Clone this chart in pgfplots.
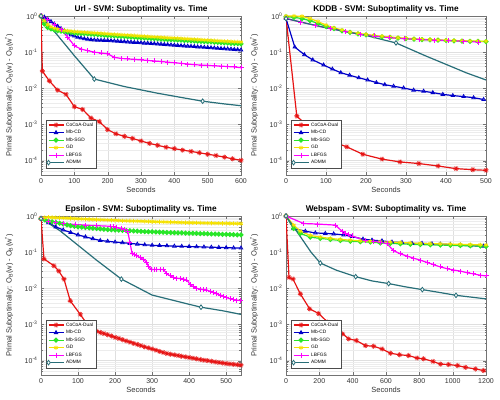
\documentclass[border=0pt]{standalone}
\usepackage{pgfplots}
\pgfplotsset{compat=1.18}
\usetikzlibrary{plotmarks}
\usepackage{fontspec}
\setmainfont{Liberation Sans}
\definecolor{cred}{RGB}{230,20,20}
\definecolor{cblue}{RGB}{0,0,200}
\definecolor{cgreen}{RGB}{40,230,40}
\definecolor{cyellow}{RGB}{245,225,0}
\definecolor{cmag}{RGB}{255,0,255}
\definecolor{cteal}{RGB}{40,110,120}
\pgfplotsset{
  width=200pt, height=159pt, scale only axis,
  ytick={1e-4,1e-3,1e-2,1e-1,1},
  yticklabels={10\textsuperscript{-4},10\textsuperscript{-3},10\textsuperscript{-2},10\textsuperscript{-1},10\textsuperscript{0}},
  minor ytick={5e-5,6e-5,7e-5,8e-5,9e-5,2e-4,3e-4,4e-4,5e-4,6e-4,7e-4,8e-4,9e-4,2e-3,3e-3,4e-3,5e-3,6e-3,7e-3,8e-3,9e-3,2e-2,3e-2,4e-2,5e-2,6e-2,7e-2,8e-2,9e-2,0.2,0.3,0.4,0.5,0.6,0.7,0.8,0.9},
  ymajorgrids, yminorgrids, xmajorgrids,
  major grid style={gray!25, line width=0.3pt},
  minor grid style={gray!15, line width=0.3pt},
  axis line style={black!55},
  tick style={black!55},
  major tick length=3pt, minor tick length=1.5pt,
  tick label style={font=\fontsize{7}{8}\selectfont, text=black!80},
  title style={font=\bfseries\fontsize{8.3}{9}\selectfont, yshift=-7pt},
  xlabel={Seconds},
  ylabel={Primal Suboptimality: O\textsubscript{B}(w) - O\textsubscript{B}(w\textsuperscript{*})},
  label style={font=\fontsize{7.5}{9}\selectfont, text=black!80},
  xlabel style={at={(axis description cs:0.5,-0.094)}, anchor=center},
  ylabel style={at={(axis description cs:-0.16,0.5)}, anchor=center},
  /pgf/number format/assume math mode=true,
  /pgf/number format/1000 sep={},
  legend style={at={(axis description cs:0.024,0.044)}, anchor=south west,
    font=\fontsize{4.8}{5}\selectfont, inner sep=0.8pt, row sep=-1.4pt, draw=black!70},
  legend cell align=left,
  legend image code/.code={\draw[mark repeat=2,mark phase=2,#1] plot coordinates {(0pt,0pt)(7.5pt,0pt)(15pt,0pt)};},
  cocoa/.style={color=cred, line width=1.2pt, mark=10-pointed star, mark size=2.6pt, mark options={solid, fill=cred, line width=0.5pt}},
  mbcd/.style={color=cblue, line width=1.2pt, mark=triangle, mark size=2pt, mark options={solid, line width=0.8pt}},
  mbsgd/.style={color=cgreen, line width=1.2pt, mark=*, mark size=1.9pt, mark options={solid, fill=cgreen}},
  gd/.style={color=cyellow, line width=1.2pt, mark=asterisk, mark size=2.2pt, mark options={solid, line width=0.8pt}},
  lbfgs/.style={color=cmag, line width=1.2pt, mark=+, mark size=2.5pt, mark options={solid, line width=0.9pt}},
  admm/.style={color=cteal, line width=1.2pt, mark=diamond*, mark size=2.3pt, mark options={solid, fill=white, line width=0.8pt}},
}
\begin{document}
\begin{tikzpicture}
\useasboundingbox (0,0) rectangle (500pt,399pt);
% ---------------- Url ----------------
\begin{axis}[ymode=log, ymin=4e-5, ymax=1, anchor=south west, at={(41pt,224pt)}, xmin=0, xmax=600, xtick={0,100,...,600},
  title={Url - SVM: Suboptimality vs. Time}]
\addplot[cocoa] coordinates {(0,1)(4,0.03)(25,0.016)(50,0.0089)(75,0.0068)(100,0.0031)(125,0.0026)(150,0.0015)(175,0.0012)(200,7.2e-4)(225,5.5e-4)(250,4.7e-4)(275,4.1e-4)(300,3.5e-4)(325,3e-4)(350,2.65e-4)(375,2.35e-4)(400,2.15e-4)(425,1.95e-4)(450,1.8e-4)(475,1.65e-4)(500,1.5e-4)(525,1.38e-4)(550,1.25e-4)(575,1.12e-4)(600,1.02e-4)};
\addplot[mbcd] coordinates {(0,1)(10,0.93)(20,0.82)(30,0.7)(40,0.6)(50,0.52)(60,0.45)(70,0.39)(80,0.34)(90,0.3)(100,0.28)(110,0.26)(120,0.245)(130,0.235)(140,0.228)(150,0.222)(160,0.218)(170,0.215)(180,0.213)(190,0.212)(200,0.21)(210,0.207)(220,0.204)(230,0.201)(240,0.198)(250,0.195)(260,0.192)(270,0.189)(280,0.186)(290,0.184)(300,0.181)(310,0.178)(320,0.176)(330,0.173)(340,0.171)(350,0.168)(360,0.166)(370,0.163)(380,0.161)(390,0.158)(400,0.156)(410,0.154)(420,0.151)(430,0.149)(440,0.147)(450,0.145)(460,0.143)(470,0.14)(480,0.138)(490,0.136)(500,0.134)(510,0.132)(520,0.13)(530,0.128)(540,0.126)(550,0.124)(560,0.123)(570,0.121)(580,0.119)(590,0.117)(600,0.115)};
\addplot[mbsgd] coordinates {(0,1)(10,0.6)(20,0.48)(30,0.44)(40,0.41)(50,0.39)(60,0.38)(70,0.37)(80,0.36)(90,0.35)(100,0.34)(110,0.335)(120,0.33)(130,0.325)(140,0.32)(150,0.315)(160,0.31)(170,0.305)(180,0.3)(190,0.295)(200,0.29)(210,0.286)(220,0.282)(230,0.278)(240,0.274)(250,0.27)(260,0.266)(270,0.262)(280,0.258)(290,0.254)(300,0.25)(310,0.247)(320,0.244)(330,0.24)(340,0.237)(350,0.234)(360,0.231)(370,0.228)(380,0.225)(390,0.222)(400,0.22)(410,0.217)(420,0.214)(430,0.211)(440,0.209)(450,0.206)(460,0.203)(470,0.201)(480,0.198)(490,0.196)(500,0.193)(510,0.191)(520,0.188)(530,0.186)(540,0.183)(550,0.181)(560,0.179)(570,0.176)(580,0.174)(590,0.172)(600,0.17)};
\addplot[gd] coordinates {(0,1)(10,0.75)(20,0.58)(30,0.5)(40,0.46)(50,0.43)(60,0.41)(70,0.4)(80,0.39)(90,0.38)(100,0.37)(110,0.365)(120,0.36)(130,0.355)(140,0.35)(150,0.345)(160,0.34)(170,0.335)(180,0.33)(190,0.325)(200,0.32)(210,0.315)(220,0.31)(230,0.306)(240,0.302)(250,0.298)(260,0.294)(270,0.29)(280,0.286)(290,0.282)(300,0.278)(310,0.274)(320,0.27)(330,0.266)(340,0.263)(350,0.26)(360,0.256)(370,0.253)(380,0.25)(390,0.247)(400,0.244)(410,0.241)(420,0.238)(430,0.235)(440,0.232)(450,0.229)(460,0.226)(470,0.223)(480,0.22)(490,0.217)(500,0.214)(510,0.211)(520,0.208)(530,0.205)(540,0.203)(550,0.2)(560,0.198)(570,0.196)(580,0.194)(590,0.192)(600,0.19)};
\addplot[lbfgs] coordinates {(0,1)(20,0.8)(40,0.58)(60,0.42)(80,0.26)(100,0.15)(120,0.122)(140,0.11)(160,0.1)(180,0.095)(200,0.09)(220,0.072)(240,0.067)(260,0.065)(280,0.063)(300,0.061)(320,0.059)(340,0.057)(360,0.055)(380,0.053)(400,0.051)(420,0.049)(440,0.047)(460,0.045)(480,0.044)(500,0.043)(520,0.042)(540,0.041)(560,0.04)(580,0.039)(600,0.037)};
\addplot[admm, mark indices={1,4,8}] coordinates {(0,1)(50,0.29)(100,0.08)(160,0.018)(250,0.0112)(350,0.0073)(420,0.0056)(485,0.0044)(550,0.0037)(600,0.0033)};
\legend{CoCoA-Dual,Mb-CD,Mb-SGD,GD,LBFGS,ADMM}
\end{axis}
% ---------------- KDDB ----------------
\begin{axis}[ymode=log, ymin=4e-5, ymax=1, anchor=south west, at={(286pt,224pt)}, xmin=0, xmax=500, xtick={0,100,...,500},
  title={KDDB - SVM: Suboptimality vs. Time}]
\addplot[cocoa] coordinates {(0,0.9)(27,1.7e-3)(69,6.3e-4)(110,3.6e-4)(152,2.4e-4)(192,1.5e-4)(240,1.1e-4)(285,9.2e-5)(332,8.3e-5)(380,7.1e-5)(425,6e-5)(467,5.6e-5)(500,5.4e-5)};
\addplot[mbcd] coordinates {(0,0.85)(22,0.138)(46,0.085)(67,0.061)(94,0.044)(116,0.034)(137,0.027)(159,0.023)(182,0.0195)(204,0.017)(226,0.0144)(247,0.0126)(269,0.0114)(294,0.0102)(319,0.0089)(344,0.0083)(367,0.0076)(392,0.0068)(417,0.0063)(444,0.0059)(469,0.0055)(494,0.0049)};
\addplot[mbsgd] coordinates {(0,0.95)(20,0.92)(40,0.85)(60,0.74)(80,0.62)(100,0.52)(120,0.45)(140,0.39)(160,0.35)(180,0.32)(200,0.3)(220,0.28)(240,0.265)(260,0.255)(280,0.245)(300,0.235)(320,0.228)(340,0.222)(360,0.218)(380,0.214)(400,0.21)(420,0.206)(440,0.203)(460,0.2)(480,0.198)(500,0.195)};
\addplot[gd] coordinates {(0,1)(20,1)(40,0.98)(60,0.85)(80,0.7)(100,0.56)(120,0.47)(140,0.41)(160,0.36)(180,0.33)(200,0.31)(220,0.29)(240,0.275)(260,0.262)(280,0.252)(300,0.243)(320,0.235)(340,0.228)(360,0.223)(380,0.218)(400,0.214)(420,0.21)(440,0.207)(460,0.204)(480,0.202)(500,0.2)};
\addplot[lbfgs] coordinates {(0,0.85)(37,0.68)(74,0.55)(111,0.45)(148,0.37)(185,0.31)(222,0.28)(259,0.25)(296,0.235)(333,0.225)(370,0.215)(407,0.21)(444,0.2)(481,0.19)};
\addplot[admm, mark indices={1,7}] coordinates {(0,0.85)(50,0.63)(100,0.47)(150,0.37)(200,0.29)(250,0.21)(275,0.18)(350,0.078)(400,0.046)(450,0.027)(500,0.017)};
\legend{CoCoA-Dual,Mb-CD,Mb-SGD,GD,LBFGS,ADMM}
\end{axis}
% ---------------- Epsilon ----------------
\begin{axis}[ymode=log, ymin=4e-5, ymax=1, anchor=south west, at={(41pt,24pt)}, xmin=0, xmax=540, xtick={0,100,...,500},
  title={Epsilon - SVM: Suboptimality vs. Time}]
\addplot[cocoa] coordinates {(0,0.85)(8,0.065)(35,0.042)(48,0.03)(62,0.018)(79,0.0045)(106,0.0019)(130,8.5e-4)(140,7.3e-4)(150,6.5e-4)(160,6e-4)(170,5.6e-4)(180,5.2e-4)(190,4.8e-4)(200,4.4e-4)(210,4.1e-4)(220,3.8e-4)(230,3.5e-4)(240,3.25e-4)(250,3e-4)(260,2.8e-4)(270,2.6e-4)(280,2.4e-4)(290,2.25e-4)(300,2.1e-4)(310,1.95e-4)(320,1.8e-4)(330,1.68e-4)(340,1.57e-4)(350,1.5e-4)(360,1.44e-4)(370,1.38e-4)(380,1.32e-4)(390,1.27e-4)(400,1.22e-4)(410,1.17e-4)(420,1.12e-4)(430,1.07e-4)(440,1.03e-4)(450,1e-4)(460,9.6e-5)(470,9.2e-5)(480,8.9e-5)(490,8.6e-5)(500,8.3e-5)(510,8.1e-5)(520,7.9e-5)(530,7.7e-5)(540,7.5e-5)};
\addplot[mbcd] coordinates {(0,0.85)(20,0.65)(40,0.5)(60,0.41)(80,0.35)(100,0.3)(120,0.265)(140,0.235)(160,0.21)(180,0.2)(200,0.19)(220,0.183)(240,0.175)(260,0.167)(280,0.16)(300,0.155)(320,0.152)(340,0.15)(360,0.147)(380,0.145)(400,0.143)(420,0.141)(440,0.139)(460,0.137)(480,0.135)(500,0.133)(520,0.131)(540,0.13)};
\addplot[mbsgd] coordinates {(0,0.85)(10,0.78)(20,0.72)(30,0.69)(40,0.66)(50,0.63)(60,0.6)(70,0.57)(80,0.54)(90,0.52)(100,0.5)(110,0.49)(120,0.48)(130,0.47)(140,0.46)(150,0.45)(160,0.44)(170,0.43)(180,0.42)(190,0.415)(200,0.41)(210,0.405)(220,0.4)(230,0.395)(240,0.39)(250,0.385)(260,0.38)(270,0.375)(280,0.37)(290,0.367)(300,0.365)(310,0.362)(320,0.36)(330,0.355)(340,0.35)(350,0.347)(360,0.345)(370,0.342)(380,0.34)(390,0.337)(400,0.335)(410,0.332)(420,0.33)(430,0.327)(440,0.325)(450,0.322)(460,0.32)(470,0.317)(480,0.315)(490,0.312)(500,0.31)(510,0.307)(520,0.305)(530,0.302)(540,0.3)};
\addplot[gd] coordinates {(0,0.85)(10,0.9)(20,0.92)(30,0.91)(40,0.9)(50,0.89)(60,0.88)(70,0.87)(80,0.86)(90,0.85)(100,0.84)(110,0.83)(120,0.82)(130,0.81)(140,0.8)(150,0.795)(160,0.79)(170,0.78)(180,0.77)(190,0.765)(200,0.76)(210,0.75)(220,0.74)(230,0.735)(240,0.73)(250,0.725)(260,0.72)(270,0.715)(280,0.71)(290,0.705)(300,0.7)(310,0.695)(320,0.69)(330,0.685)(340,0.68)(350,0.675)(360,0.67)(370,0.665)(380,0.66)(390,0.657)(400,0.655)(410,0.652)(420,0.65)(430,0.645)(440,0.64)(450,0.637)(460,0.635)(470,0.632)(480,0.63)(490,0.627)(500,0.625)(510,0.622)(520,0.62)(530,0.617)(540,0.615)};
\addplot[lbfgs] coordinates {(0,0.85)(20,0.72)(40,0.66)(60,0.62)(93,0.58)(120,0.56)(150,0.54)(187,0.52)(196,0.5)(205,0.48)(216,0.46)(226,0.43)(234,0.38)(240,0.19)(246,0.09)(252,0.085)(259,0.08)(268,0.07)(277,0.062)(286,0.052)(290,0.04)(299,0.033)(306,0.033)(313,0.033)(322,0.033)(331,0.033)(340,0.025)(349,0.022)(358,0.02)(367,0.019)(376,0.0185)(385,0.018)(394,0.017)(403,0.0125)(412,0.011)(421,0.01)(430,0.0095)(439,0.0092)(448,0.009)(457,0.0082)(466,0.0075)(475,0.007)(484,0.0065)(493,0.006)(502,0.0055)(511,0.0051)(520,0.0049)(529,0.0047)(538,0.0046)};
\addplot[admm, mark indices={1,5,8}] coordinates {(0,0.85)(50,0.4)(100,0.155)(150,0.06)(217,0.018)(300,0.0065)(370,0.0043)(432,0.003)(490,0.0024)(540,0.0019)};
\legend{CoCoA-Dual,Mb-CD,Mb-SGD,GD,LBFGS,ADMM}
\end{axis}
% ---------------- Webspam ----------------
\begin{axis}[ymode=log, ymin=4e-5, ymax=1, anchor=south west, at={(286pt,24pt)}, xmin=0, xmax=1200, xtick={0,200,...,1200},
  title={Webspam - SVM: Suboptimality vs. Time}]
\addplot[cocoa] coordinates {(0,1)(18,0.02)(42,0.018)(86,0.007)(142,0.0027)(196,0.002)(250,0.00116)(296,8.5e-4)(340,5.5e-4)(376,4e-4)(422,3.6e-4)(476,2.6e-4)(526,2.5e-4)(576,2.1e-4)(626,1.6e-4)(682,1.45e-4)(736,1.38e-4)(786,1.18e-4)(826,1.12e-4)(882,9.5e-5)(926,8e-5)(976,7.8e-5)(1030,7.3e-5)(1076,6.5e-5)(1136,5.9e-5)(1186,5.3e-5)};
\addplot[mbcd] coordinates {(0,1)(46,0.45)(116,0.38)(176,0.34)(236,0.33)(286,0.32)(346,0.3)(396,0.27)(462,0.23)(516,0.215)(576,0.205)(636,0.19)(696,0.185)(756,0.175)(816,0.175)(876,0.17)(926,0.167)(986,0.163)(1046,0.157)(1106,0.15)(1186,0.147)};
\addplot[mbsgd] coordinates {(0,1)(46,0.45)(86,0.33)(146,0.26)(206,0.24)(266,0.225)(326,0.21)(386,0.2)(446,0.195)(506,0.19)(566,0.18)(626,0.175)(686,0.17)(746,0.165)(806,0.162)(866,0.16)(926,0.157)(986,0.155)(1046,0.152)(1106,0.15)(1166,0.148)(1200,0.145)};
\addplot[gd] coordinates {(0,1)(46,0.56)(86,0.38)(146,0.29)(206,0.26)(266,0.24)(326,0.225)(386,0.215)(446,0.205)(506,0.2)(566,0.195)(626,0.19)(686,0.185)(746,0.18)(806,0.175)(866,0.172)(926,0.17)(986,0.167)(1046,0.165)(1106,0.162)(1166,0.16)(1200,0.158)};
\addplot[lbfgs] coordinates {(0,1)(106,0.62)(186,0.6)(296,0.56)(336,0.38)(356,0.33)(376,0.3)(396,0.28)(476,0.21)(526,0.2)(566,0.19)(606,0.17)(646,0.11)(686,0.09)(726,0.078)(766,0.068)(806,0.06)(846,0.052)(886,0.045)(926,0.039)(966,0.035)(1006,0.032)(1046,0.03)(1086,0.027)(1126,0.025)(1166,0.023)(1200,0.022)};
\addplot[admm, mark indices={1,4,6,8,10,12}] coordinates {(0,1)(86,0.27)(150,0.1)(206,0.05)(300,0.032)(418,0.021)(516,0.016)(616,0.0135)(716,0.011)(818,0.0092)(920,0.0077)(1020,0.0064)(1200,0.0051)};
\legend{CoCoA-Dual,Mb-CD,Mb-SGD,GD,LBFGS,ADMM}
\end{axis}
\end{tikzpicture}
\end{document}
